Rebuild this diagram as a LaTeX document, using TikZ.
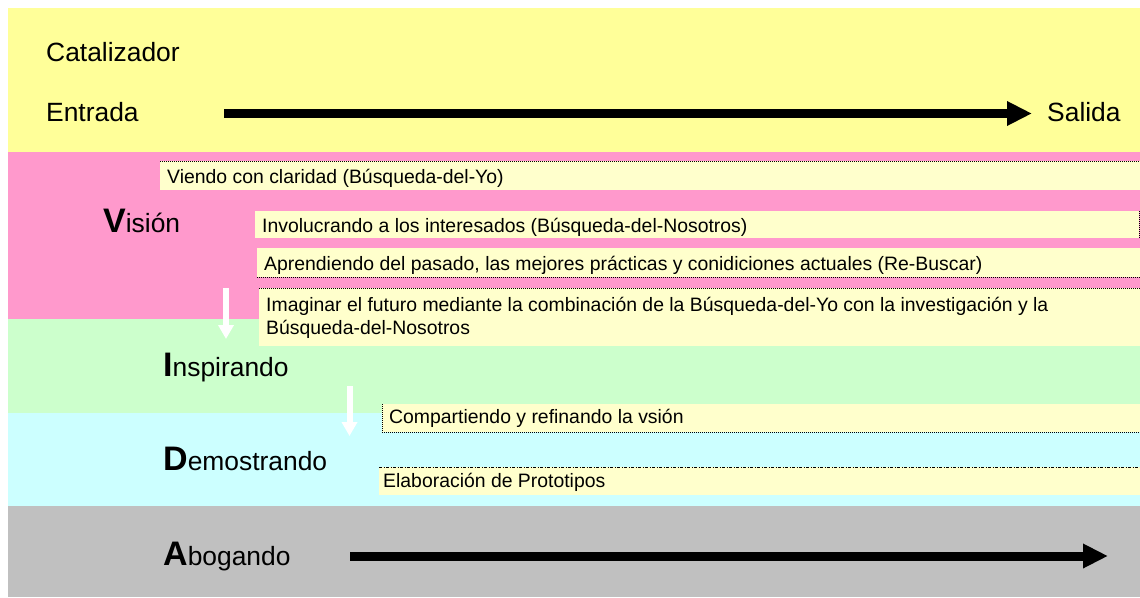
\documentclass[tikz,border=0pt]{standalone}
\usepackage{fontspec}
\setmainfont{Liberation Sans}
\usetikzlibrary{arrows.meta}
\definecolor{bandY}{HTML}{FFFF99}
\definecolor{bandP}{HTML}{FF99CC}
\definecolor{bandG}{HTML}{CCFFCC}
\definecolor{bandC}{HTML}{CCFFFF}
\definecolor{bandS}{HTML}{C0C0C0}
\definecolor{boxY}{HTML}{FFFFCC}
\newcommand{\initl}[1]{{\fontsize{34}{40}\selectfont\bfseries #1}}
\begin{document}
\begin{tikzpicture}[x=1pt,y=-1pt,
  big/.style={anchor=base west, inner sep=0pt, font=\fontsize{26.4}{30}\selectfont},
  small/.style={anchor=base west, inner sep=0pt, font=\fontsize{19.4}{23}\selectfont},
  boxfill/.style={fill=boxY},
  dotb/.style={line width=0.8pt, dash pattern=on 1pt off 1pt},
  dashdotb/.style={line width=0.8pt, dash pattern=on 3pt off 1.5pt on 1pt off 1.5pt},
  bigarrow/.style={line width=9pt, -{Triangle[length=25pt,width=23pt]}},
  whitearrow/.style={white, line width=6pt, -{Triangle[length=14pt,width=15pt]}}]
\useasboundingbox (0,0) rectangle (1140,597);
\fill[white] (0,0) rectangle (1140,597);
% bands
\fill[bandY] (8,8) rectangle (1140,152);
\fill[bandP] (8,152) rectangle (1140,319);
\fill[bandG] (8,319) rectangle (1140,413);
\fill[bandC] (8,413) rectangle (1140,506);
\fill[bandS] (8,506) rectangle (1140,597);
% boxes
\fill[boxfill] (160,161) rectangle (1140,190);
\draw[dotb] (160,161) -- (1140,161);
\fill[boxfill] (255,211) rectangle (1139,238);
\draw[dotb] (1139,211) -- (1139,238);
\fill[boxfill] (257,248) rectangle (1140,277);
\draw[dotb] (257,277) -- (1140,277);
\fill[boxfill] (259,288) rectangle (1140,346);
\draw[dotb] (259,288) -- (1140,288);
\fill[boxfill] (382,404) rectangle (1140,432);
\draw[dotb] (382,404) -- (382,432) -- (1140,432);
\fill[boxfill] (379,467) rectangle (1140,495);
\draw[dashdotb] (379,467) -- (1140,467);
% header texts
\node[big] (cat) at (46,61) {Catalizador};
\node[big] (ent) at (46,121) {Entrada};
\node[big] (sal) at (1047,121) {Salida};
% stage labels
\node[big] (vis) at (103,232) {\initl{V}isión};
\node[big] (ins) at (163,376) {\initl{I}nspirando};
\node[big] (dem) at (163,470) {\initl{D}emostrando};
\node[big] (abo) at (163,565) {\initl{A}bogando};
% box texts
\node[small] (t1) at (167,183) {Viendo con claridad (Búsqueda-del-Yo)};
\node[small] (t2) at (262,232) {Involucrando a los interesados (Búsqueda-del-Nosotros)};
\node[small] (t3) at (264,270) {Aprendiendo del pasado, las mejores prácticas y conidiciones actuales (Re-Buscar)};
\node[small] (t4a) at (266,311) {Imaginar el futuro mediante la combinación de la Búsqueda-del-Yo con la investigación y la};
\node[small] (t4b) at (266,334) {Búsqueda-del-Nosotros};
\node[small] (t5) at (389,423) {Compartiendo y refinando la vsión};
\node[small] (t6) at (383,487) {Elaboración de Prototipos};
% arrows
\coordinate (a1s) at (224,113.5);
\coordinate (a1e) at (1032,113.5);
\draw[bigarrow] (a1s) -- (a1e);
\coordinate (a2s) at (350,556);
\coordinate (a2e) at (1108,556);
\draw[bigarrow] (a2s) -- (a2e);
\coordinate (w1s) at (226,288);
\coordinate (w1e) at (226,339);
\draw[whitearrow] (w1s) -- (w1e);
\coordinate (w2s) at (349.5,386);
\coordinate (w2e) at (349.5,436);
\draw[whitearrow] (w2s) -- (w2e);
\end{tikzpicture}
\end{document}
